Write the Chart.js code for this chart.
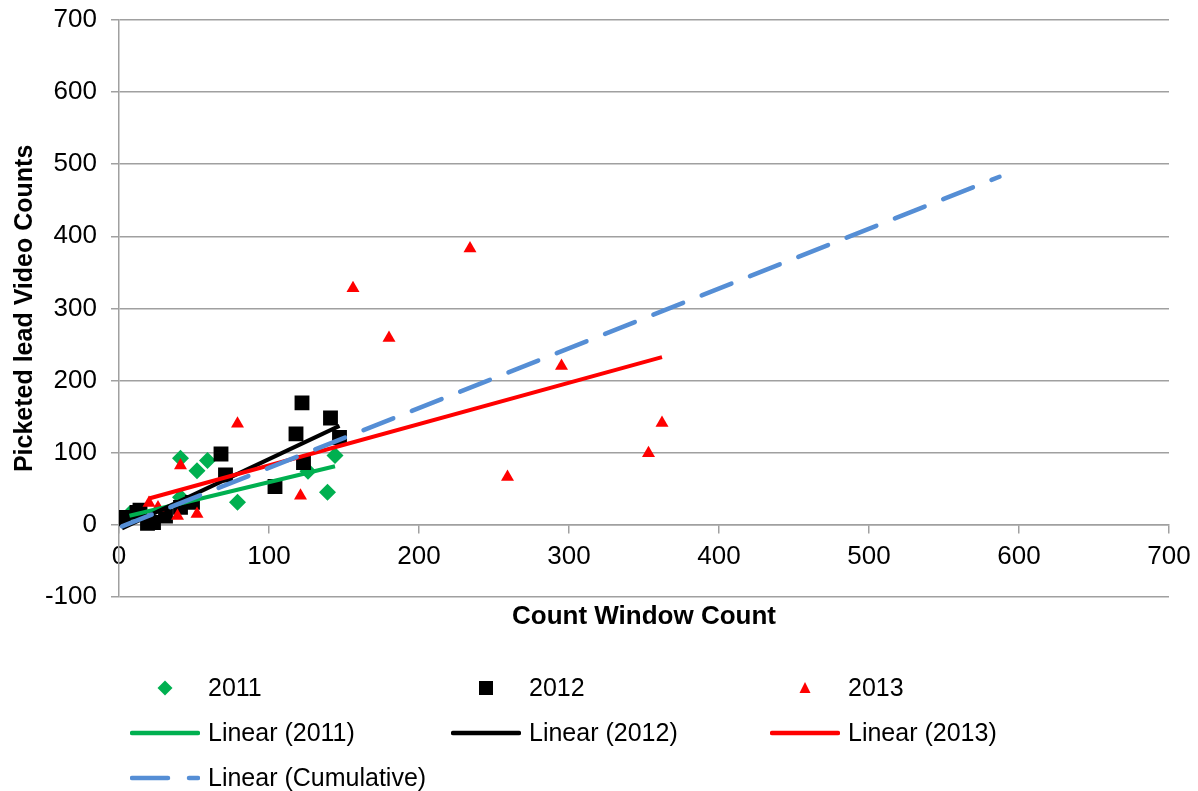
<!DOCTYPE html>
<html>
<head>
<meta charset="utf-8">
<script src="https://cdn.jsdelivr.net/npm/chart.js@4.4.0/dist/chart.umd.min.js"></script>
<style>
  body { margin: 0; background: #fff; }
  #wrap { position: relative; width: 1198px; height: 791px; font-family: "Liberation Sans", Arial, sans-serif; }
  #chart { position: absolute; left: 0; top: 0; }
  #legend {
    position: absolute; left: 130px; top: 665px;
    display: grid; grid-template-columns: 321px 319px 300px; grid-auto-rows: 45px;
  }
  .item { display: flex; align-items: center; font-size: 25px; color: #000; white-space: nowrap; }
  .item svg { width: 70px; height: 24px; margin-right: 8px; flex: none; }
</style>
</head>
<body>
<div id="wrap">
  <canvas id="chart" width="1198" height="791"></canvas>
  <div id="legend"></div>
</div>
<script>
// Scatter data (x = count window, y = picketed lead video)
const x2011 = [7, 41, 41, 52, 59, 79, 126, 139, 144];
const y2011 = [15, 38, 92, 75, 89, 31, 74, 45, 96];

const x2012 = [2, 3, 12, 14, 19, 23, 31, 41, 49, 68, 71, 104, 118, 122, 123, 141, 147];
const y2012 = [8, 10, 17, 20, 2, 3, 12, 24, 31, 98, 69, 53, 126, 169, 86, 148, 121];

const x2013 = [20, 26, 39, 41, 52, 79, 121, 156, 180, 234, 259, 295, 353, 362];
const y2013 = [30, 24, 12, 82, 15, 140, 40, 328, 259, 383, 66, 220, 99, 141];

const seriesNames = ['2011', '2012', '2013'];
const trendNames = ['Linear (2011)', 'Linear (2012)', 'Linear (2013)', 'Linear (Cumulative)'];

// trendline fits as they appear on the chart
const trendSlope = [0.50, 0.98, 0.573, 0.829];
const trendIntercept = [9.0, -7.0, 24.9, -4.0];
const cumulativeForecast = 225; // forward forecast of the cumulative line

const xTicks = [0, 100, 200, 300, 400, 500, 600, 700];
const yTicks = [-100, 0, 100, 200, 300, 400, 500, 600, 700];

const green = '#00B050';
const black = '#000000';
const red = '#FF0000';
const blue = '#558ED5';
const gridGray = '#A0A0A0';

function pts(xs, ys) {
  return xs.map((x, i) => ({ x: x, y: ys[i] }));
}

function trend(k, xMin, xMax) {
  return [
    { x: xMin, y: trendSlope[k] * xMin + trendIntercept[k] },
    { x: xMax, y: trendSlope[k] * xMax + trendIntercept[k] }
  ];
}

// keep the plot area where Excel put it
function noPad(s) {
  s.paddingTop = 0; s.paddingBottom = 0; s.paddingLeft = 0; s.paddingRight = 0;
}

const allX = x2011.concat(x2012, x2013);

const datasets = [
  {
    label: trendNames[3],
    data: trend(3, Math.min(...allX), Math.max(...allX) + cumulativeForecast),
    showLine: true, pointRadius: 0, borderColor: blue, borderWidth: 4.5,
    borderDash: [32, 20], borderCapStyle: 'round', order: 0
  },
  {
    label: trendNames[2],
    data: trend(2, Math.min(...x2013), Math.max(...x2013)),
    showLine: true, pointRadius: 0, borderColor: red, borderWidth: 4, order: 1
  },
  {
    label: trendNames[1],
    data: trend(1, Math.min(...x2012), Math.max(...x2012)),
    showLine: true, pointRadius: 0, borderColor: black, borderWidth: 4, order: 2
  },
  {
    label: trendNames[0],
    data: trend(0, Math.min(...x2011), Math.max(...x2011)),
    showLine: true, pointRadius: 0, borderColor: green, borderWidth: 4, order: 3
  },
  {
    label: seriesNames[2], data: pts(x2013, y2013),
    pointStyle: 'triangle', pointRadius: 7.5, backgroundColor: red, borderColor: red, borderWidth: 0, order: 4
  },
  {
    label: seriesNames[1], data: pts(x2012, y2012),
    pointStyle: 'rect', pointRadius: 10.5, backgroundColor: black, borderColor: black, borderWidth: 0, order: 5
  },
  {
    label: seriesNames[0], data: pts(x2011, y2011),
    pointStyle: 'rectRot', pointRadius: 8.5, backgroundColor: green, borderColor: green, borderWidth: 0, order: 6
  }
];

const tickFont = { family: '"Liberation Sans", Arial, sans-serif', size: 26 };
const titleFont = { family: '"Liberation Sans", Arial, sans-serif', size: 26, weight: 'bold' };

const chart = new Chart(document.getElementById('chart').getContext('2d'), {
  type: 'scatter',
  data: { datasets: datasets },
  options: {
    responsive: false,
    animation: false,
    layout: { padding: { left: 0, right: 29, top: 20, bottom: 159 } },
    plugins: { legend: { display: false }, tooltip: { enabled: false } },
    scales: {
      x: {
        type: 'linear', min: xTicks[0], max: xTicks[xTicks.length - 1],
        position: { y: 0 },
        afterBuildTicks: (s) => { s.ticks = xTicks.map(v => ({ value: v })); },
        ticks: { font: tickFont, color: '#000', padding: 9 },
        grid: { drawOnChartArea: false, tickLength: 8, color: gridGray, lineWidth: 1.5 },
        border: { color: gridGray, width: 1.5 },
        afterFit: (s) => { s.height = 0; noPad(s); }
      },
      x2: {
        type: 'linear', min: xTicks[0], max: xTicks[xTicks.length - 1], position: 'bottom',
        ticks: { display: false }, grid: { display: false, drawTicks: false }, border: { display: false },
        title: { display: true, text: 'Count Window Count', font: titleFont, color: '#000', padding: { top: 4, bottom: 0 } },
        afterFit: noPad
      },
      y: {
        type: 'linear', min: yTicks[0], max: yTicks[yTicks.length - 1],
        afterBuildTicks: (s) => { s.ticks = yTicks.map(v => ({ value: v })); },
        ticks: { font: tickFont, color: '#000', padding: 14 },
        grid: { color: gridGray, lineWidth: 1.5, tickLength: 8 },
        border: { color: gridGray, width: 1.5 },
        title: { display: true, text: 'Picketed lead Video Counts', font: { family: titleFont.family, size: 25, weight: 'bold' }, color: '#000', padding: { top: 10, bottom: 0 } },
        afterFit: (s) => { s.width = 119; noPad(s); }
      }
    }
  }
});

// legend in Excel's three-column layout
function sampleSvg(ds) {
  const ns = 'http://www.w3.org/2000/svg';
  const svg = document.createElementNS(ns, 'svg');
  svg.setAttribute('viewBox', '0 0 70 24');
  let shape;
  if (ds.showLine) {
    shape = document.createElementNS(ns, 'line');
    shape.setAttribute('x1', 2); shape.setAttribute('x2', 68);
    shape.setAttribute('y1', 12); shape.setAttribute('y2', 12);
    shape.setAttribute('stroke', ds.borderColor);
    shape.setAttribute('stroke-width', 4.5);
    shape.setAttribute('stroke-linecap', 'round');
    if (ds.borderDash) shape.setAttribute('stroke-dasharray', '36 21');
  } else if (ds.pointStyle === 'rectRot') {
    shape = document.createElementNS(ns, 'polygon');
    shape.setAttribute('points', '35,4.5 42.5,12 35,19.5 27.5,12');
    shape.setAttribute('fill', ds.backgroundColor);
  } else if (ds.pointStyle === 'rect') {
    shape = document.createElementNS(ns, 'rect');
    shape.setAttribute('x', 28); shape.setAttribute('y', 5);
    shape.setAttribute('width', 14); shape.setAttribute('height', 14);
    shape.setAttribute('fill', ds.backgroundColor);
  } else {
    shape = document.createElementNS(ns, 'polygon');
    shape.setAttribute('points', '35,6 40.5,17 29.5,17');
    shape.setAttribute('fill', ds.backgroundColor);
  }
  svg.appendChild(shape);
  return svg;
}

const legendOrder = seriesNames.concat(trendNames);
const legendEl = document.getElementById('legend');
legendOrder.forEach(name => {
  const ds = chart.data.datasets.find(d => d.label === name);
  const item = document.createElement('div');
  item.className = 'item';
  item.appendChild(sampleSvg(ds));
  const span = document.createElement('span');
  span.textContent = name;
  item.appendChild(span);
  legendEl.appendChild(item);
});
</script>
</body>
</html>
